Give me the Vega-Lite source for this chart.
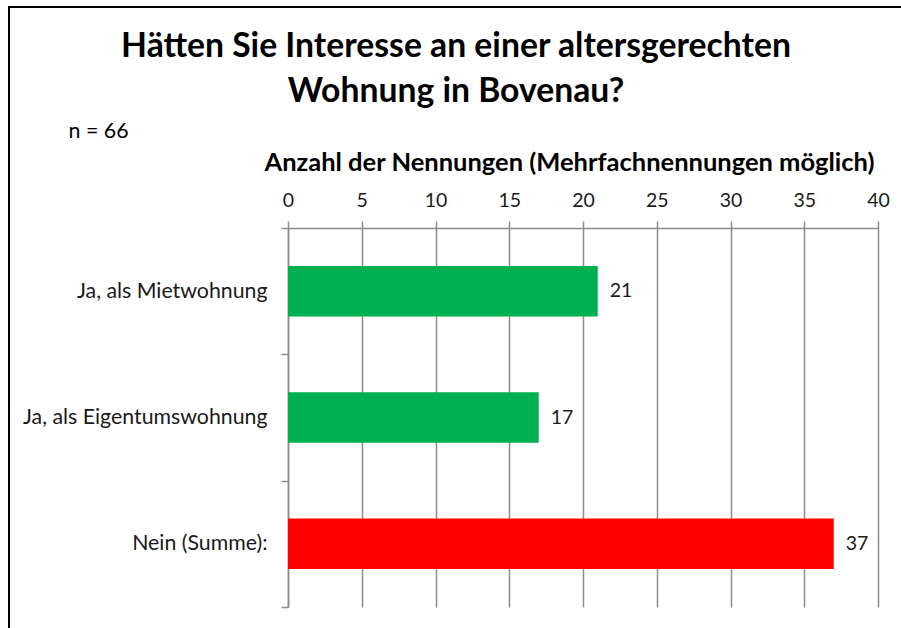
{
  "$schema": "https://vega.github.io/schema/vega-lite/v6.json",
  "autosize": "none",
  "width": 892,
  "height": 621,
  "padding": {"left": 9, "top": 7, "right": 0, "bottom": 0},
  "background": "white",
  "view": {"stroke": "#000000", "strokeWidth": 2, "strokeDash": [892, 1513, 621, 20]},
  "title": {
    "text": ["Hätten Sie Interesse an einer altersgerechten", "Wohnung in Bovenau?"],
    "anchor": "middle",
    "frame": "group",
    "font": "Lato",
    "fontSize": 33.7,
    "fontWeight": "bold",
    "color": "#000000",
    "lineHeight": 45,
    "dx": 1,
    "offset": -147,
    "baseline": "bottom"
  },
  "config": {"font": "Lato"},
  "data": {
    "values": [
      {"Antwort": "Ja, als Mietwohnung\u00a0", "Anzahl": 21, "Gruppe": "Ja"},
      {"Antwort": "Ja, als Eigentumswohnung", "Anzahl": 17, "Gruppe": "Ja"},
      {"Antwort": "Nein (Summe):", "Anzahl": 37, "Gruppe": "Nein"}
    ]
  },
  "encoding": {
    "y": {
      "field": "Antwort",
      "type": "nominal",
      "sort": null,
      "scale": {"range": [221, 600], "paddingInner": 0, "paddingOuter": 0},
      "axis": {
        "orient": "left",
        "offset": -279,
        "title": "n = 66",
        "titleAngle": 0,
        "titleX": -220,
        "titleY": 130,
        "titleAlign": "left",
        "titleBaseline": "alphabetic",
        "titleFont": "Lato",
        "titleFontSize": 21.4,
        "titleFontWeight": "normal",
        "titleColor": "#000000",
        "tickBand": "extent",
        "tickSize": 7,
        "tickColor": "#8c8c8c",
        "tickWidth": 1.5,
        "domainColor": "#8c8c8c",
        "domainWidth": 1.5,
        "labelFont": "Lato",
        "labelFontSize": 21.3,
        "labelColor": "#1a1a1a",
        "labelPadding": 14,
        "labelLimit": 400,
        "grid": false
      }
    },
    "x": {
      "field": "Anzahl",
      "type": "quantitative",
      "scale": {"domain": [0, 40], "range": [279, 869], "nice": false},
      "axis": {
        "orient": "top",
        "offset": -221,
        "title": "Anzahl der Nennungen (Mehrfachnennungen möglich)",
        "titleFont": "Lato",
        "titleFontSize": 25.5,
        "titleFontWeight": "bold",
        "titleColor": "#000000",
        "titleX": 560,
        "titleY": -58,
        "titleAlign": "center",
        "titleBaseline": "alphabetic",
        "values": [0, 5, 10, 15, 20, 25, 30, 35, 40],
        "grid": true,
        "gridColor": "#8c8c8c",
        "gridWidth": 1.5,
        "gridOpacity": 1,
        "domainColor": "#8c8c8c",
        "domainWidth": 1.5,
        "tickColor": "#8c8c8c",
        "tickWidth": 1.5,
        "tickSize": 7,
        "labelFont": "Lato",
        "labelFontSize": 19.5,
        "labelColor": "#1a1a1a",
        "labelPadding": 15,
        "labelBaseline": "alphabetic",
        "labelFlush": false,
        "labelOverlap": false
      }
    }
  },
  "layer": [
    {
      "mark": {"type": "bar", "height": {"band": 0.4}},
      "encoding": {
        "color": {
          "field": "Gruppe",
          "type": "nominal",
          "scale": {"domain": ["Ja", "Nein"], "range": ["#00B050", "#FF0000"]},
          "legend": null
        }
      }
    },
    {
      "mark": {"type": "text", "align": "left", "baseline": "middle", "dx": 12, "font": "Lato", "fontSize": 19.5, "color": "#1a1a1a"},
      "encoding": {"text": {"field": "Anzahl", "type": "quantitative"}}
    }
  ]
}
